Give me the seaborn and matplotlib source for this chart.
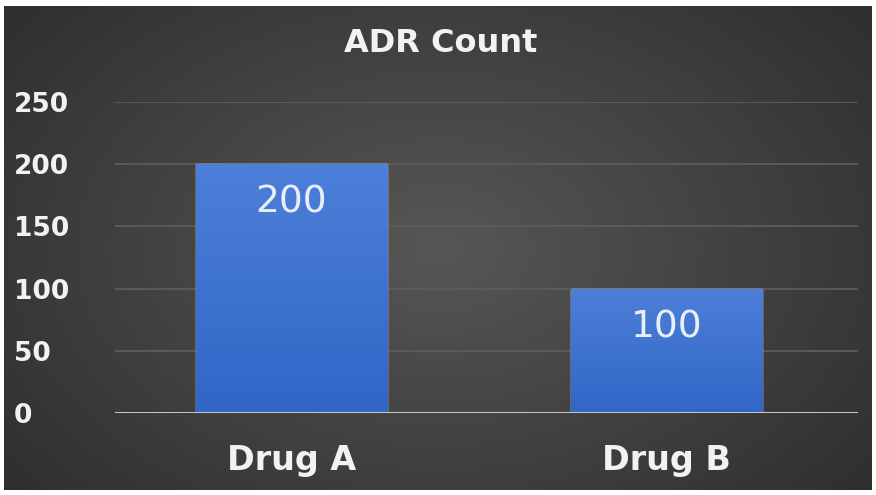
import numpy as np
import pandas as pd
import matplotlib
matplotlib.use("Agg")
import matplotlib.pyplot as plt
import seaborn as sns

drugs = ["Drug A", "Drug B"]
adr_counts = [200, 100]
y_ticks = [0, 50, 100, 150, 200, 250]

df = pd.DataFrame({"drug": drugs, "count": adr_counts})

sns.set_theme(style="dark")
plt.rcParams["font.family"] = ["DejaVu Sans"]

W, H = 876, 495
fig = plt.figure(figsize=(W / 100, H / 100), dpi=100, facecolor="white")

# radial dark-gray backdrop inside a thin white frame
bg = fig.add_axes([4 / W, 5 / H, 868 / W, 484 / H])
yy, xx = np.mgrid[0:1:300j, 0:1:500j]
r = np.sqrt(((xx - 0.5) / 0.62) ** 2 + ((yy - 0.5) / 0.75) ** 2)
shade = 0.34 - 0.15 * np.clip(r, 0, 1.2)
bg.imshow(np.dstack([shade, shade, shade]), aspect="auto", extent=[0, 1, 0, 1],
          interpolation="bilinear")
bg.set_axis_off()

ax = fig.add_axes([115 / W, (H - 413) / H, 743 / W, 311 / H])
ax.set_facecolor("none")
sns.barplot(data=df, x="drug", y="count", color="#3a6fcf", width=0.51,
            saturation=1, ax=ax, zorder=3)

ax.set_yticks(y_ticks)
ax.set_yticklabels([str(t) for t in y_ticks], fontsize=19, fontweight="bold",
                   color="#f2f2f2")
ax.set_xticks(range(len(drugs)))
ax.set_xticklabels(drugs, fontsize=24, fontweight="bold", color="#f2f2f2")
ax.tick_params(axis="y", length=0, pad=73)
ax.tick_params(axis="x", length=0, pad=22)
ax.set_xlabel("")
ax.set_ylabel("")
for lab in ax.get_yticklabels():
    lab.set_horizontalalignment("left")

ax.grid(axis="y", color="#5c5c5c", linewidth=1.3, zorder=0)
ax.grid(axis="x", visible=False)
for s in ax.spines.values():
    s.set_visible(False)
ax.axhline(0, color="#c4c4c4", linewidth=2.2, zorder=4)

# vertical gradient fill for each bar
grad = np.linspace(0, 1, 256).reshape(-1, 1)
top = np.array([0.30, 0.50, 0.85])
bot = np.array([0.19, 0.40, 0.78])
cols = (bot + (top - bot) * grad)[:, None, :]
for p, v in zip(ax.patches, adr_counts):
    x0, w = p.get_x(), p.get_width()
    im = ax.imshow(cols, extent=[x0, x0 + w, 0, v], origin="lower",
                   aspect="auto", zorder=3.5, interpolation="bilinear")
    im.set_clip_path(p)
    ax.text(x0 + w / 2, v - 31, str(v), ha="center", va="center",
            fontsize=27, color="#e9eef8", zorder=5)
ax.set_xlim(-0.47, 1.51)
ax.set_ylim(0, 250)

fig.text(441 / W, (H - 44) / H, "ADR Count", ha="center", va="center",
         fontsize=23, fontweight="bold", color="#f2f2f2")

fig.savefig("out.png", dpi=100, facecolor="white")
